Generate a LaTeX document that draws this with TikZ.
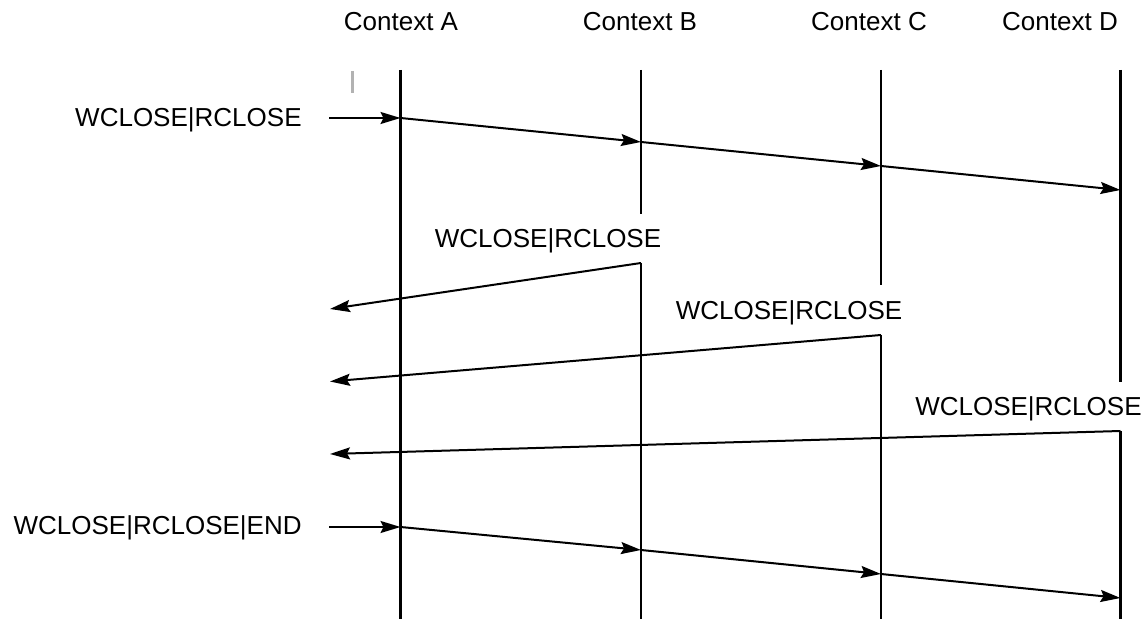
\documentclass[tikz,border=0pt]{standalone}
\usepackage{fontspec}
\setmainfont{Liberation Sans}
\usetikzlibrary{arrows.meta}
\tikzset{
      lifeline/.style = {black, line width=1.2pt},
      msg/.style      = {black, line width=1pt, -{Stealth[length=10pt,width=6pt,inset=1.5pt]}},
      msglabel/.style = {font=\fontsize{13}{15}\selectfont, inner sep=0pt},
    }

\begin{document}
\begin{tikzpicture}[x=0.5pt,y=-0.5pt]
        \useasboundingbox (0,0) rectangle (1146,619);
        \tikzstyle{every node} = [msglabel]
        % context headers
        \node[anchor=base] (ctxA) at (401,31) {Context A};
        \node[anchor=base] (ctxB) at (640,31) {Context B};
        \node[anchor=base] (ctxC) at (869,31) {Context C};
        \node[anchor=base] (ctxD) at (1060,31) {Context D};

        % lifelines, broken where a label sits
        \coordinate (A0) at (400.5,70);  \coordinate (A9) at (400.5,619);
        \coordinate (B0) at (641,70);    \coordinate (B1) at (641,214);
        \coordinate (B2) at (641,263);   \coordinate (B9) at (641,619);
        \coordinate (C0) at (881,70);    \coordinate (C1) at (881,285);
        \coordinate (C2) at (881,335);   \coordinate (C9) at (881,619);
        \coordinate (D0) at (1120.5,70); \coordinate (D1) at (1120.5,382);
        \coordinate (D2) at (1120.5,431); \coordinate (D9) at (1120.5,619);
        \draw[lifeline] (A0) -- (A9);
        \draw[lifeline] (B0) -- (B1);
        \draw[lifeline] (B2) -- (B9);
        \draw[lifeline] (C0) -- (C1);
        \draw[lifeline] (C2) -- (C9);
        \draw[lifeline] (D0) -- (D1);
        \draw[lifeline] (D2) -- (D9);
        \draw[black!30, line width=1.3pt] (352.5,71) -- (352.5,93);

        % close going forward
        \node[anchor=base east] (close1) at (302,127) {WCLOSE|RCLOSE};
        \coordinate (s1) at (329,118);
        \coordinate (a1) at (400.5,118);
        \coordinate (b1) at (641,142);
        \coordinate (c1) at (881,166);
        \coordinate (d1) at (1120.5,190);
        \draw[msg] (s1) -- (a1);
        \draw[msg] (a1) -- (b1);
        \draw[msg] (b1) -- (c1);
        \draw[msg] (c1) -- (d1);

        % replies back to the caller
        \node[anchor=base] (close2) at (548,248) {WCLOSE|RCLOSE};
        \node[anchor=base] (close3) at (789,320) {WCLOSE|RCLOSE};
        \node[anchor=base east] (close4) at (1142,416) {WCLOSE|RCLOSE};
        \coordinate (r2) at (330,309);
        \coordinate (r3) at (330,381.5);
        \coordinate (r4) at (330,454);
        \draw[msg] (B2) -- (r2);
        \draw[msg] (C2) -- (r3);
        \draw[msg] (D2) -- (r4);

        % close with end
        \node[anchor=base east] (close5) at (302,535) {WCLOSE|RCLOSE|END};
        \coordinate (s5) at (329,527);
        \coordinate (a5) at (400.5,527);
        \coordinate (b5) at (641,550);
        \coordinate (c5) at (881,574);
        \coordinate (d5) at (1120.5,598);
        \draw[msg] (s5) -- (a5);
        \draw[msg] (a5) -- (b5);
        \draw[msg] (b5) -- (c5);
        \draw[msg] (c5) -- (d5);
\end{tikzpicture}
\end{document}
